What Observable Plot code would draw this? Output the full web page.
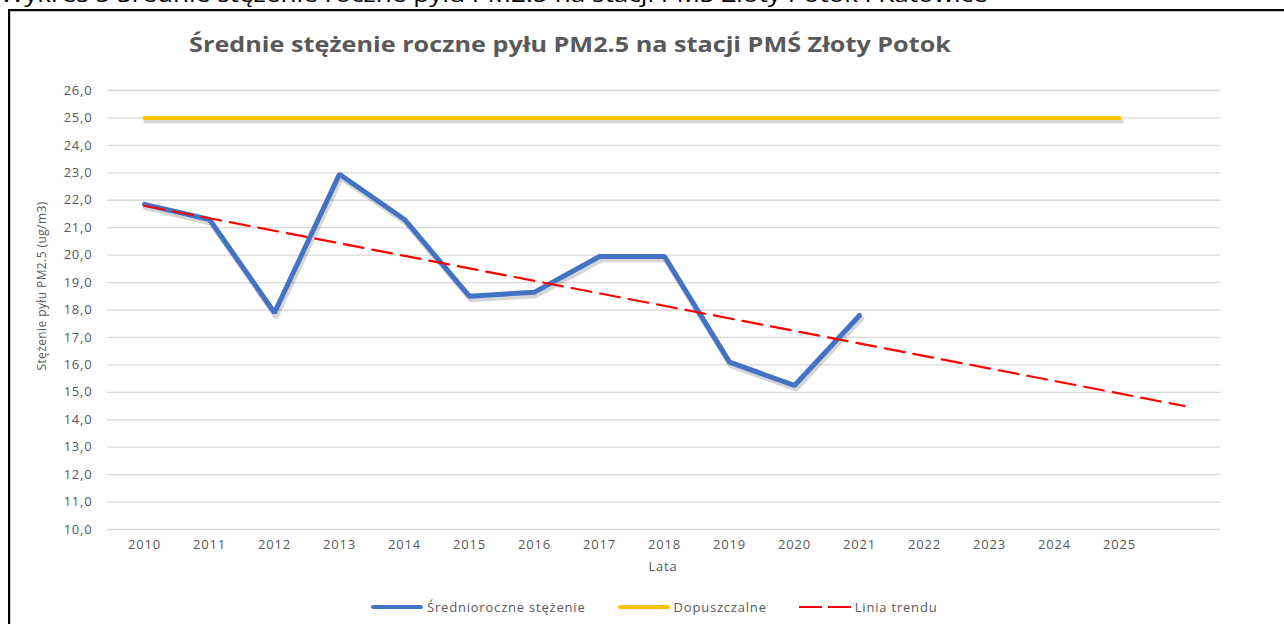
<!DOCTYPE html>
<html>
<head>
<meta charset="utf-8">
<script src="https://cdn.jsdelivr.net/npm/d3@7"></script>
<script src="https://cdn.jsdelivr.net/npm/@observablehq/plot@0.6"></script>
<style>
  html, body { margin: 0; padding: 0; background: #fff; overflow: hidden; }
  #wrap { position: relative; width: 1284px; height: 624px; overflow: hidden; font-family: "Open Sans", sans-serif; }
  #chart { position: absolute; left: 0; top: 0; }
  #cut { position: absolute; left: 0; top: -16px; font-size: 21px; line-height: 21px; color: #000; white-space: nowrap; transform: scaleX(1.245); transform-origin: 0 0; }
  #frame { position: absolute; left: 8px; top: 9px; width: 1300px; height: 700px; border-left: 2px solid #000; border-top: 2px solid #000; box-shadow: inset 1px 1px 0 #c8c8c8; pointer-events: none; }
  #title { position: absolute; left: 570px; top: 30px; transform: translateX(-50%) scaleX(1.2); font-weight: 700; font-size: 21px; line-height: 28px; color: #595959; white-space: nowrap; }
  #ylab { position: absolute; left: 41px; top: 286px; transform: translate(-50%, -50%) rotate(-90deg); font-size: 12px; letter-spacing: 0.4px; color: #595959; white-space: nowrap; }
  #xlab { position: absolute; left: 663px; top: 566px; transform: translate(-50%, -50%); font-size: 13px; letter-spacing: 0.8px; color: #595959; }
  #legend { position: absolute; top: 598px; left: 371px; display: flex; align-items: center; font-size: 13px; letter-spacing: 0.8px; color: #595959; white-space: nowrap; }
  .item { display: flex; align-items: center; margin-right: 32px; }
  .sw { width: 52px; height: 0; margin-right: 4px; }
</style>
</head>
<body>
<div id="wrap">
  <div id="chart"></div>
  <div id="cut">Wykres 5 Średnie stężenie roczne pyłu PM2.5 na stacji PMŚ Złoty Potok i Katowice</div>
  <div id="title">Średnie stężenie roczne pyłu PM2.5 na stacji PMŚ Złoty Potok</div>
  <div id="ylab">Stężenie pyłu PM2.5 (ug/m3)</div>
  <div id="xlab">Lata</div>
  <div id="legend"></div>
  <div id="frame"></div>
</div>
<script>
// Categories (2026 is an unlabeled slot reached by the trend line)
const years = ["2010","2011","2012","2013","2014","2015","2016","2017","2018","2019","2020","2021","2022","2023","2024","2025","2026"];
const tickYears = ["2010","2011","2012","2013","2014","2015","2016","2017","2018","2019","2020","2021","2022","2023","2024","2025"];
const yTicks = [10,11,12,13,14,15,16,17,18,19,20,21,22,23,24,25,26];

// Series: annual mean concentration
const measuredYears = ["2010","2011","2012","2013","2014","2015","2016","2017","2018","2019","2020","2021"];
const concentration = [21.85, 21.3, 17.9, 22.95, 21.3, 18.5, 18.65, 19.95, 19.95, 16.1, 15.25, 17.8];

// Series: permitted level
const limitYears = tickYears;
const limitValue = 25;

// Series: trend line endpoints
const trendYears = ["2010", "2026"];
const trendValues = [21.8, 14.5];

const seriesNames = ["Średnioroczne stężenie", "Dopuszczalne", "Linia trendu"];
const seriesColors = ["#4472C4", "#FFC000", "#FF0000"];

const measured = measuredYears.map((y, i) => ({year: y, value: concentration[i]}));
const limit = limitYears.map(y => ({year: y, value: limitValue}));
const trend = trendYears.map((y, i) => ({year: y, value: trendValues[i]}));

const fmt = d => d.toFixed(1).replace(".", ",");

const plot = Plot.plot({
  width: 1284,
  height: 560,
  marginTop: 90,
  marginBottom: 31,
  marginLeft: 107,
  marginRight: 64,
  style: {fontFamily: "Open Sans, sans-serif", fontSize: "13px", letterSpacing: "0.8px", color: "#595959", background: "transparent"},
  x: {type: "point", domain: years, padding: 0.5},
  y: {domain: [10, 26]},
  marks: [
    Plot.ruleY(yTicks, {stroke: "#d9d9d9", strokeWidth: 1.3}),
    Plot.axisY(yTicks, {tickSize: 0, tickPadding: 15, tickFormat: fmt, label: null, fill: "#595959"}),
    Plot.axisX(tickYears, {tickSize: 0, tickPadding: 10, label: null, fill: "#595959"}),
    Plot.line(limit, {x: "year", y: "value", stroke: "#000", strokeOpacity: 0.16, strokeWidth: 5, dx: 1.5, dy: 3}),
    Plot.line(measured, {x: "year", y: "value", stroke: "#000", strokeOpacity: 0.16, strokeWidth: 6, dx: 1.5, dy: 3}),
    Plot.line(limit, {x: "year", y: "value", stroke: seriesColors[1], strokeWidth: 4, strokeLinecap: "round"}),
    Plot.line(measured, {x: "year", y: "value", stroke: seriesColors[0], strokeWidth: 5, strokeLinejoin: "miter", strokeLinecap: "round"}),
    Plot.line(trend, {x: "year", y: "value", stroke: seriesColors[2], strokeWidth: 2.2, strokeDasharray: "20,9"})
  ]
});
document.getElementById("chart").appendChild(plot);

// Legend
const legend = document.getElementById("legend");
seriesNames.forEach((name, i) => {
  const item = document.createElement("div");
  item.className = "item";
  const sw = document.createElement("div");
  sw.className = "sw";
  if (i === 2) {
    sw.style.borderTop = "2.5px solid " + seriesColors[i];
    sw.style.borderImage = "linear-gradient(to right, " + seriesColors[i] + " 0 44%, transparent 44% 56%, " + seriesColors[i] + " 56% 100%) 1";
  } else {
    sw.style.borderTop = "4px solid " + seriesColors[i];
    sw.style.borderRadius = "2px";
  }
  const label = document.createElement("span");
  label.textContent = name;
  item.appendChild(sw);
  item.appendChild(label);
  legend.appendChild(item);
});
</script>
</body>
</html>
